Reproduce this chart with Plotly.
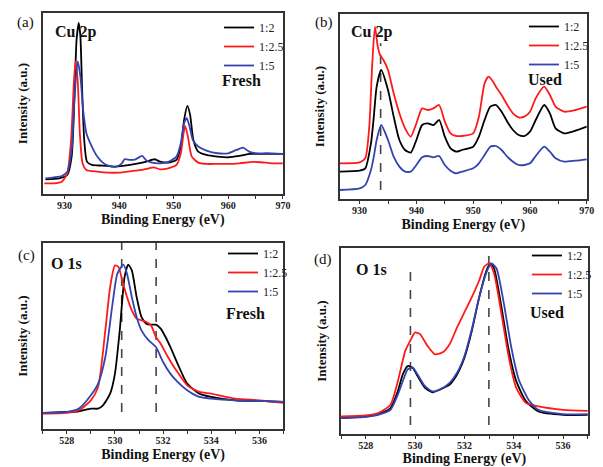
import plotly.graph_objects as go

# ---------------- data (intensity in arbitrary units) ----------------
# (a) Cu 2p fresh
a_black_x = [926.5, 929, 930.5, 931.3, 931.8, 932.2, 932.6, 932.9, 933.2, 933.6, 934.1, 935, 937, 939, 941, 943, 945, 946.5, 947.5, 949, 950.5, 951.3, 951.9, 952.5, 953, 953.6, 954.5, 956, 958, 960, 962, 964, 966, 968, 970]
a_black_y = [44, 47, 57, 112, 282, 462, 512, 472, 322, 162, 97, 87, 85, 82, 85, 90, 97, 104, 97, 94, 102, 142, 222, 264, 237, 162, 127, 117, 112, 110, 114, 120, 120, 120, 120]
a_red_x = [926.3, 928, 929.5, 930.5, 931.2, 931.7, 932.0, 932.4, 932.8, 933.3, 934, 936, 938, 940, 942, 944, 945.5, 946.3, 947.5, 949, 950.5, 951.3, 951.8, 952.1, 952.6, 953.3, 954.5, 956, 958, 960, 962, 964.5, 966, 968, 970]
a_red_y = [32, 32, 37, 62, 162, 332, 397, 342, 182, 92, 72, 67, 64, 64, 68, 72, 77, 80, 74, 77, 87, 122, 182, 204, 172, 112, 94, 90, 90, 90, 92, 96, 95, 92, 92]
a_blue_x = [926.5, 928, 929.5, 930.5, 931.3, 931.8, 932.4, 932.9, 933.4, 934, 935, 936, 937, 938, 939.5, 940.5, 941, 942, 943, 944.2, 945, 946, 947.5, 949, 950.5, 951.3, 951.9, 952.4, 952.9, 953.5, 954.5, 956, 958, 960, 961.5, 962.7, 963.8, 965, 967, 970]
a_blue_y = [47, 50, 54, 67, 132, 282, 397, 352, 252, 182, 142, 112, 94, 85, 82, 92, 104, 102, 104, 114, 100, 94, 92, 96, 112, 152, 212, 227, 202, 162, 142, 130, 122, 122, 132, 139, 127, 122, 122, 120]

# (b) Cu 2p used
b_black_x = [926.5, 930, 931, 932, 932.5, 933, 933.8, 935, 936, 937, 938, 939, 940, 941, 942, 943, 944, 945, 946, 947, 948, 950, 951, 952, 953, 954, 955, 956, 957, 958, 959, 960, 961, 962.5, 963.5, 964.5, 966, 968, 970]
b_black_y = [82, 85, 92, 167, 247, 337, 387, 327, 247, 177, 147, 139, 177, 222, 227, 222, 237, 187, 152, 142, 147, 157, 187, 237, 277, 282, 262, 232, 207, 192, 189, 202, 237, 282, 257, 212, 197, 205, 217]
b_red_x = [926.5, 930, 931, 931.7, 932.2, 932.7, 933.2, 933.6, 934.2, 935, 936, 937, 938, 939, 940, 941, 942, 943, 944, 945, 946, 947, 948, 950, 951, 952, 952.7, 953.5, 954, 955, 956, 957, 958, 959, 960, 961, 962.5, 963.5, 964.5, 966, 968, 970]
b_red_y = [107, 110, 122, 217, 397, 517, 457, 432, 417, 387, 317, 257, 212, 187, 227, 272, 267, 272, 282, 232, 197, 189, 189, 197, 247, 347, 367, 352, 337, 312, 282, 257, 245, 247, 262, 302, 337, 312, 277, 262, 267, 277]
b_blue_x = b_black_x
b_blue_y = [27, 32, 42, 87, 127, 177, 222, 177, 127, 97, 82, 82, 102, 125, 129, 125, 129, 102, 85, 77, 82, 92, 107, 132, 157, 159, 147, 127, 112, 102, 102, 107, 129, 157, 142, 122, 112, 115, 119]
b_dash_x = [933.7]
b_dash_y = [27, 467]

# (c) O 1s fresh
c_black_x = [527, 528, 528.5, 529, 529.3, 529.5, 529.8, 530, 530.2, 530.4, 530.55, 530.7, 530.9, 531.1, 531.3, 531.5, 531.7, 531.9, 532.1, 532.3, 532.6, 533, 533.5, 534, 535, 536, 537]
c_black_y = [49, 52, 54, 62, 62, 72, 107, 167, 297, 457, 494, 477, 397, 337, 317, 314, 314, 302, 277, 247, 197, 137, 107, 97, 87, 85, 82]
c_red_x = [527, 528, 528.5, 529, 529.3, 529.6, 529.8, 530, 530.15, 530.3, 530.5, 530.7, 530.9, 531.1, 531.3, 531.5, 531.7, 531.9, 532.2, 532.5, 533, 533.5, 534, 535, 536, 537]
c_red_y = [47, 49, 57, 87, 127, 297, 427, 492, 487, 447, 397, 357, 332, 327, 322, 312, 277, 257, 217, 182, 132, 112, 107, 92, 87, 79]
c_blue_x = [527, 528, 528.5, 529, 529.3, 529.6, 529.9, 530.1, 530.35, 530.5, 530.7, 530.9, 531.1, 531.4, 531.7, 532, 532.3, 532.6, 533, 533.5, 534, 535, 536, 537]
c_blue_y = [49, 52, 62, 102, 137, 217, 377, 467, 494, 467, 397, 337, 297, 267, 247, 202, 167, 142, 117, 97, 92, 87, 85, 82]
c_dash_x = [530.28, 531.71]
c_dash_y = [52, 559]

# (d) O 1s used
d_black_x = [527, 528, 528.5, 529, 529.3, 529.5, 529.7, 529.9, 530.1, 530.4, 530.7, 531, 531.4, 531.7, 532, 532.3, 532.6, 532.9, 533.05, 533.2, 533.5, 533.8, 534.1, 534.5, 535, 536, 537]
d_black_y = [49, 52, 59, 77, 127, 177, 202, 197, 172, 137, 124, 132, 147, 177, 227, 307, 407, 487, 507, 492, 377, 247, 157, 97, 67, 57, 57]
d_red_x = [527, 528, 528.5, 529, 529.3, 529.6, 529.8, 530, 530.2, 530.5, 530.8, 531.1, 531.4, 531.7, 532, 532.3, 532.6, 532.8, 533, 533.2, 533.5, 533.8, 534.1, 534.5, 535, 536, 537]
d_red_y = [52, 55, 62, 87, 157, 247, 277, 302, 297, 262, 237, 242, 267, 317, 362, 407, 457, 497, 507, 477, 357, 227, 137, 92, 82, 72, 69]
d_blue_x = [527, 528, 528.5, 529, 529.3, 529.5, 529.7, 529.9, 530.1, 530.4, 530.7, 531, 531.4, 531.7, 532, 532.3, 532.6, 532.9, 533.1, 533.3, 533.6, 533.9, 534.2, 534.6, 535, 536, 537]
d_blue_y = [47, 51, 57, 72, 117, 157, 192, 197, 177, 142, 127, 132, 152, 182, 232, 312, 407, 482, 507, 492, 387, 257, 162, 102, 72, 59, 59]
d_dash1_x = [529.81]
d_dash1_y = [27, 482]
d_dash2_x = [532.99]
d_dash2_y = [27, 529]

series_names = ["1:2", "1:2.5", "1:5"]
colors = ["#000000", "#ff1a1a", "#3344b0"]

W, H = 603, 467
SERIF = "Liberation Serif"


def px(x):
    return x / W


def py(y):
    return 1 - y / H


fig = go.Figure()

panels = [
    # suffix, data, xrange, yrange, dashes, domain px (l, r, top, bottom), legend pos px, title standoff
    ("", [(a_black_x, a_black_y), (a_red_x, a_red_y), (a_blue_x, a_blue_y)], [926, 970], [0, 542], [],
     (43.3, 286.7, 13, 194), (222, 13), 4),
    ("2", [(b_black_x, b_black_y), (b_red_x, b_red_y), (b_blue_x, b_blue_y)], [926.5, 970], [0, 555],
     [(b_dash_x[0], b_dash_y)], (344.3, 594.7, 14, 199), (531, 12), 4),
    ("3", [(c_black_x, c_black_y), (c_red_x, c_red_y), (c_blue_x, c_blue_y)], [527, 537], [0, 559],
     [(c_dash_x[0], c_dash_y), (c_dash_x[1], c_dash_y)], (43.3, 287.3, 243, 429.3), (226, 239), 4),
    ("4", [(d_black_x, d_black_y), (d_red_x, d_red_y), (d_blue_x, d_blue_y)], [527, 537], [0, 552],
     [(d_dash1_x[0], d_dash1_y), (d_dash2_x[0], d_dash2_y)], (345.7, 595.7, 248.3, 434), (534, 241), 3),
]

layout_upd = {}
for i, (suf, series, xr, yr, dashes, dom, lg, so) in enumerate(panels):
    xa, ya = "x" + suf, "y" + suf
    legname = "legend" + suf
    for dx, dy in dashes:
        fig.add_trace(go.Scatter(x=[dx, dx], y=dy, mode="lines", xaxis=xa, yaxis=ya,
                                 line=dict(color="#444444", width=1.6, dash="dash"),
                                 showlegend=False, hoverinfo="skip"))
    for (sx, sy), nm, col in zip(series, series_names, colors):
        fig.add_trace(go.Scatter(x=sx, y=sy, mode="lines", name=nm, xaxis=xa, yaxis=ya,
                                 legend=legname,
                                 line=dict(color=col, width=1.8, shape="spline", smoothing=0.6)))
    l, r, t, b = dom
    major = 10 if xr[1] > 900 else 2
    minor = 5 if xr[1] > 900 else 1
    tick0 = 930 if xr[1] > 900 else 528
    layout_upd["xaxis" + suf] = dict(
        domain=[px(l), px(r)], range=xr, anchor=ya, showgrid=False, zeroline=False,
        showline=True, linecolor="#333333", linewidth=1.5, mirror=True,
        ticks="outside", ticklen=3, tickwidth=1.2, tickcolor="#333333",
        tick0=tick0, dtick=major, ticklabelstandoff=-2,
        minor=dict(ticks="outside", ticklen=3, tickwidth=1.2, tickcolor="#333333", dtick=minor, tick0=tick0),
        tickfont=dict(family=SERIF, size=10, color="#222222", weight="bold"),
        title=dict(text="Binding Energy (eV)", standoff=so,
                   font=dict(family=SERIF, size=14, color="#111111", weight="bold")),
    )
    layout_upd["yaxis" + suf] = dict(
        domain=[py(b), py(t)], range=yr, anchor=xa, showgrid=False, zeroline=False,
        showline=True, linecolor="#333333", linewidth=1.5, mirror=True,
        showticklabels=False, ticks="",
        title=dict(text="Intensity (a.u.)", standoff=10,
                   font=dict(family=SERIF, size=13, color="#111111", weight="bold")),
    )
    layout_upd[legname] = dict(
        x=px(lg[0]), y=py(lg[1]), xanchor="left", yanchor="top",
        bgcolor="rgba(0,0,0,0)", borderwidth=0, itemwidth=30, tracegroupgap=0,
        font=dict(family=SERIF, size=12, color="#222222"),
    )

annots = [
    ("(a)", 26, 22, 15, "normal", "center"),
    ("Cu 2p", 77, 32, 16, "bold", "center"),
    ("Fresh", 223, 81, 16, "bold", "left"),
    ("(b)", 328, 22, 15, "normal", "center"),
    ("Cu 2p", 376, 32, 16, "bold", "center"),
    ("Used", 533, 80, 16, "bold", "left"),
    ("(c)", 27, 255, 15, "normal", "center"),
    ("O 1s", 67, 263, 16, "bold", "center"),
    ("Fresh", 227, 313, 16, "bold", "left"),
    ("(d)", 327, 259, 15, "normal", "center"),
    ("O 1s", 377, 269, 16, "bold", "center"),
    ("Used", 535, 312, 16, "bold", "left"),
]
annotations = []
for txt, ax_, ay_, sz, wt, anc in annots:
    annotations.append(dict(text=txt, x=px(ax_), y=py(ay_), xref="paper", yref="paper",
                            xanchor=anc, yanchor="middle", showarrow=False,
                            font=dict(family=SERIF, size=sz, color="#111111", weight=wt)))

fig.update_layout(
    width=W, height=H, margin=dict(l=0, r=0, t=0, b=0),
    paper_bgcolor="white", plot_bgcolor="white",
    annotations=annotations, **layout_upd,
)

fig.write_html("out.html", config={"displayModeBar": False},
               post_script="document.body.style.margin='0px';document.body.style.overflow='hidden';")
